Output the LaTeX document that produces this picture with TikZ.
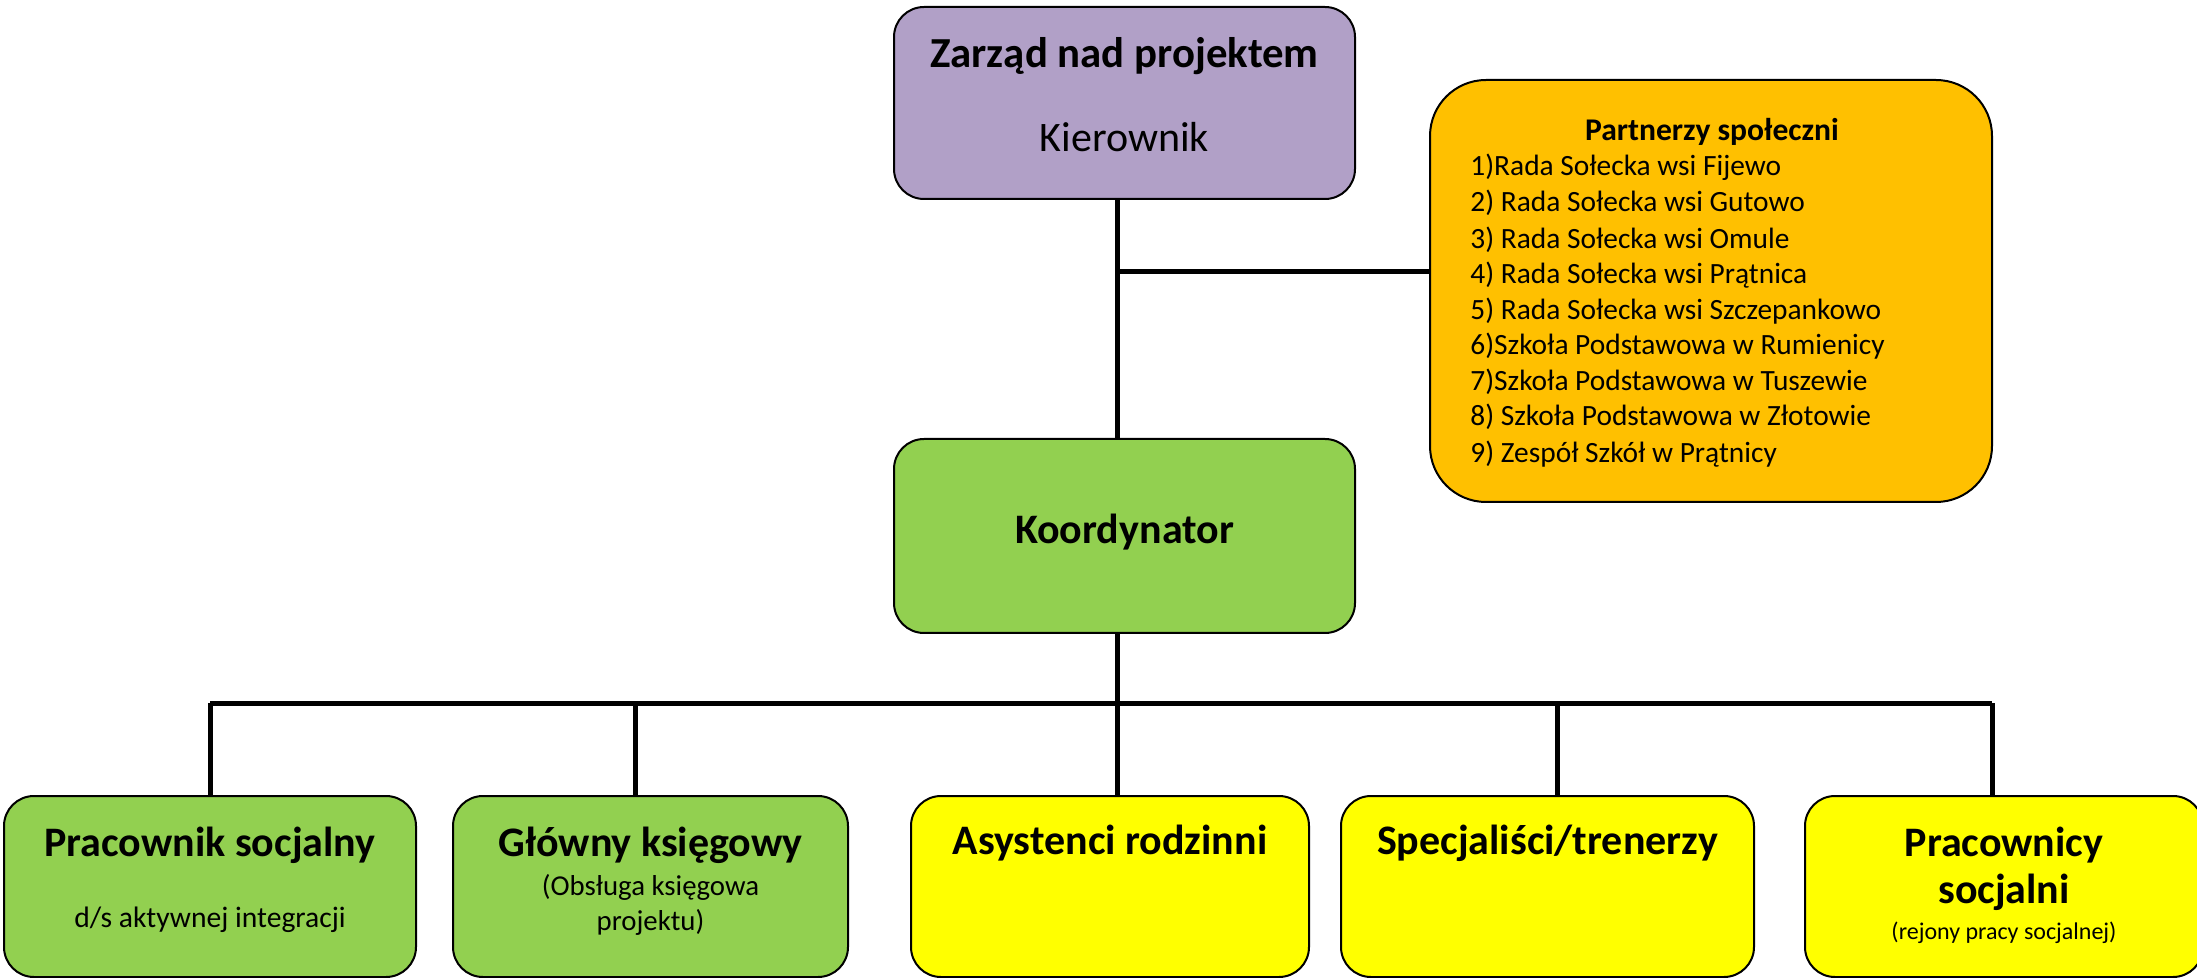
\documentclass[tikz,border=0pt]{standalone}
\usepackage{fontspec}
\setmainfont{Carlito}
\usepackage{tikz}

\definecolor{zarzadfill}{RGB}{177,160,199}
\definecolor{koordfill}{RGB}{146,208,80}
\definecolor{partnerfill}{RGB}{255,192,0}
\definecolor{zespolfill}{RGB}{255,255,0}

\begin{document}
\begin{tikzpicture}[x=0.5pt,y=-0.5pt]
\tikzstyle{every node}+=[inner sep=0pt]
\tikzstyle{orgbox}=[draw=black, line width=1pt, rounded corners=15pt]
\tikzstyle{link}=[black, line width=2.5pt]
\useasboundingbox (0,0) rectangle (2197,978);
% boxes
\node [orgbox, fill=zarzadfill, minimum width=230.5pt, minimum height=96pt] (zarzad) at (1124.5,103) {};
\node [orgbox, fill=koordfill, minimum width=230.5pt, minimum height=97pt] (koord) at (1124.5,536) {};
\node [orgbox, fill=partnerfill, rounded corners=28pt, minimum width=281pt, minimum height=211pt] (partner) at (1711,291) {};
\node [orgbox, fill=koordfill, minimum width=206pt, minimum height=90.5pt] (pracownik) at (210,886.5) {};
\node [orgbox, fill=koordfill, minimum width=197.5pt, minimum height=90.5pt] (ksiegowy) at (650.5,886.5) {};
\node [orgbox, fill=zespolfill, minimum width=199pt, minimum height=90.5pt] (asystenci) at (1110,886.5) {};
\node [orgbox, fill=zespolfill, minimum width=206.5pt, minimum height=90.5pt] (specjalisci) at (1547.5,886.5) {};
\node [orgbox, fill=zespolfill, minimum width=199pt, minimum height=90.5pt] (pracownicy) at (2004,886.5) {};
% texts
\node (zarzadt) at (1124.5,56) {\fontsize{21.4}{25}\selectfont\bfseries Zarząd nad projektem};
\node (kierownikt) at (1124.5,137) {\fontsize{21}{25}\selectfont Kierownik};
\node (koordt) at (1124.5,532) {\fontsize{21}{25}\selectfont\bfseries Koordynator};
\node (partnert) at (1712,132) {\fontsize{15.8}{18}\selectfont\bfseries Partnerzy społeczni};
\node [anchor=west] (p1) at (1470,167) {\fontsize{14.7}{17}\selectfont 1)Rada Sołecka wsi Fijewo};
\node [anchor=west] (p2) at (1470,203) {\fontsize{14.7}{17}\selectfont 2) Rada Sołecka wsi Gutowo};
\node [anchor=west] (p3) at (1470,240) {\fontsize{14.7}{17}\selectfont 3) Rada Sołecka wsi Omule};
\node [anchor=west] (p4) at (1470,275) {\fontsize{14.7}{17}\selectfont 4) Rada Sołecka wsi Prątnica};
\node [anchor=west] (p5) at (1470,311) {\fontsize{14.7}{17}\selectfont 5) Rada Sołecka wsi Szczepankowo};
\node [anchor=west] (p6) at (1470,346) {\fontsize{14.7}{17}\selectfont 6)Szkoła Podstawowa w Rumienicy};
\node [anchor=west] (p7) at (1470,382) {\fontsize{14.7}{17}\selectfont 7)Szkoła Podstawowa w Tuszewie};
\node [anchor=west] (p8) at (1470,417) {\fontsize{14.7}{17}\selectfont 8) Szkoła Podstawowa w Złotowie};
\node [anchor=west] (p9) at (1470,454) {\fontsize{14.7}{17}\selectfont 9) Zespół Szkół w Prątnicy};
\node (pracownikt) at (210,845) {\fontsize{21}{25}\selectfont\bfseries Pracownik socjalny};
\node (pracownikd) at (210,920) {\fontsize{14.8}{17}\selectfont d/s aktywnej integracji};
\node (ksiegowyt) at (650.5,845) {\fontsize{21}{25}\selectfont\bfseries Główny księgowy};
\node (ksiegowyd1) at (650.5,887) {\fontsize{14.4}{17}\selectfont (Obsługa księgowa};
\node (ksiegowyd2) at (650.5,922) {\fontsize{14.4}{17}\selectfont projektu)};
\node (asystencit) at (1110,843) {\fontsize{21}{25}\selectfont\bfseries Asystenci rodzinni};
\node (specjalscit) at (1547.5,843) {\fontsize{21}{25}\selectfont\bfseries Specjaliści/trenerzy};
\node (pracownicyt1) at (2004,845) {\fontsize{21}{25}\selectfont\bfseries Pracownicy};
\node (pracownicyt2) at (2004,892) {\fontsize{21}{25}\selectfont\bfseries socjalni};
\node (pracownicyd) at (2004,933) {\fontsize{12}{14}\selectfont (rejony pracy socjalnej)};
% connectors
\coordinate (jp) at (1117,272);
\coordinate (d1) at (210,703);
\coordinate (d2) at (635,703);
\coordinate (d3) at (1117,703);
\coordinate (d4) at (1557,703);
\coordinate (d5) at (1992,703);
\draw [link] (jp |- zarzad.south) -- (jp |- koord.north);
\draw [link] (jp) -- (jp -| partner.west);
\draw [link] (d3 |- koord.south) -- (d3 |- asystenci.north);
\draw [link] (d1) -- (d5);
\draw [link] (d1) -- (d1 |- pracownik.north);
\draw [link] (d2) -- (d2 |- ksiegowy.north);
\draw [link] (d4) -- (d4 |- specjalisci.north);
\draw [link] (d5) -- (d5 |- pracownicy.north);
\end{tikzpicture}
\end{document}
